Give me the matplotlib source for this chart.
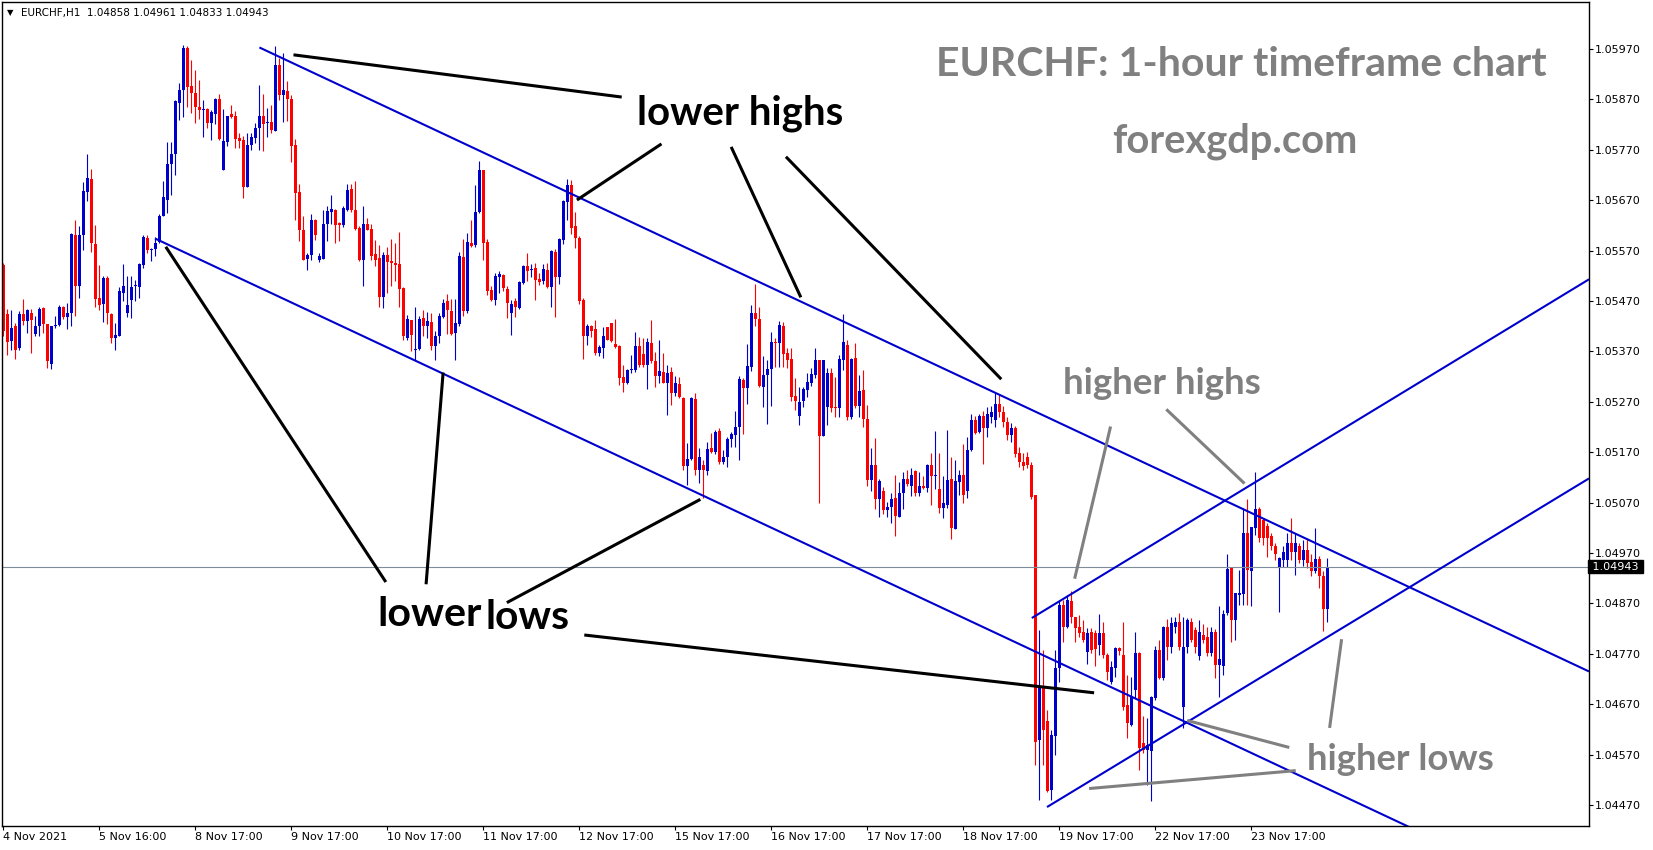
import numpy as np
import matplotlib
matplotlib.use("Agg")
import matplotlib.pyplot as plt

# EURCHF H1 candles, in points above 1.04000 (1 point = 0.00001)
opens = [
    1542, 1445, 1390, 1420, 1377, 1445, 1430, 1446, 1405, 1421, 1457, 1425,
    1345, 1420, 1422, 1458, 1439, 1446, 1601, 1499, 1600, 1687, 1712, 1584,
    1475, 1465, 1515, 1445, 1397, 1401, 1486, 1446, 1471, 1500, 1498, 1542,
    1595, 1572, 1573, 1588, 1638, 1671, 1742, 1762, 1863, 1888, 1972, 1896,
    1882, 1855, 1848, 1851, 1823, 1841, 1870, 1729, 1785, 1841, 1837, 1793,
    1790, 1697, 1779, 1793, 1813, 1837, 1823, 1825, 1808, 1939, 1878, 1887,
    1870, 1780, 1686, 1611, 1553, 1562, 1631, 1552, 1554, 1623, 1646, 1651,
    1624, 1620, 1651, 1693, 1650, 1615, 1552, 1623, 1613, 1564, 1556, 1477,
    1562, 1550, 1545, 1544, 1495, 1397, 1433, 1372, 1375, 1436, 1420, 1429,
    1381, 1401, 1438, 1469, 1451, 1406, 1425, 1558, 1451, 1585, 1581, 1646,
    1729, 1588, 1492, 1472, 1517, 1522, 1494, 1447, 1469, 1456, 1505, 1540,
    1531, 1535, 1513, 1509, 1532, 1497, 1568, 1518, 1591, 1667, 1700, 1618,
    1595, 1472, 1401, 1421, 1414, 1366, 1376, 1418, 1426, 1385, 1381, 1319,
    1307, 1333, 1333, 1380, 1365, 1343, 1386, 1350, 1321, 1330, 1308, 1330,
    1287, 1306, 1277, 1142, 1156, 1275, 1134, 1145, 1132, 1178, 1171, 1213,
    1150, 1160, 1196, 1204, 1220, 1314, 1297, 1340, 1446, 1434, 1300, 1323,
    1335, 1389, 1387, 1420, 1366, 1354, 1282, 1242, 1272, 1294, 1308, 1323,
    1353, 1202, 1260, 1328, 1260, 1257, 1353, 1383, 1239, 1356, 1262, 1293,
    1235, 1115, 1145, 1077, 1094, 1056, 1062, 1079, 1041, 1089, 1116, 1103,
    1132, 1090, 1102, 1099, 1145, 1122, 1097, 1059, 1065, 1116, 1017, 1110,
    1125, 1094, 1174, 1233, 1211, 1242, 1218, 1240, 1234, 1266, 1250, 1230,
    1205, 1218, 1168, 1150, 1160, 1145, 1085, 599, 705, 636, 500, 606,
    741, 867, 823, 874, 844, 824, 814, 773, 814, 811, 788, 811,
    768, 715, 741, 781, 768, 669, 629, 699, 771, 593, 580, 578,
    682, 777, 722, 824, 784, 823, 834, 665, 784, 834, 817, 765,
    808, 804, 771, 814, 748, 746, 851, 940, 837, 887, 889, 1010,
    935, 1019, 1057, 1036, 1024, 1003, 983, 943, 956, 956, 989, 973,
    983, 956, 975, 952, 935, 958, 925, 858]
highs = [
    1545, 1454, 1453, 1426, 1450, 1473, 1455, 1454, 1441, 1459, 1459, 1425,
    1421, 1441, 1462, 1461, 1466, 1605, 1631, 1618, 1707, 1762, 1732, 1621,
    1542, 1519, 1519, 1446, 1426, 1498, 1544, 1519, 1519, 1512, 1545, 1601,
    1601, 1575, 1597, 1642, 1709, 1786, 1786, 1869, 1902, 1978, 1975, 1948,
    1929, 1908, 1869, 1852, 1849, 1872, 1881, 1851, 1837, 1859, 1846, 1803,
    1798, 1803, 1803, 1823, 1899, 1881, 1853, 1859, 1976, 1952, 1962, 1907,
    1879, 1791, 1702, 1639, 1566, 1643, 1632, 1566, 1651, 1658, 1681, 1652,
    1626, 1658, 1703, 1703, 1709, 1618, 1658, 1634, 1623, 1591, 1582, 1568,
    1577, 1593, 1585, 1606, 1498, 1443, 1433, 1459, 1440, 1453, 1449, 1446,
    1410, 1446, 1473, 1484, 1473, 1473, 1568, 1593, 1605, 1630, 1701, 1747,
    1729, 1593, 1499, 1525, 1529, 1524, 1499, 1472, 1475, 1509, 1542, 1566,
    1544, 1545, 1525, 1544, 1545, 1571, 1573, 1595, 1671, 1712, 1710, 1647,
    1598, 1476, 1425, 1423, 1433, 1383, 1418, 1419, 1427, 1434, 1383, 1343,
    1335, 1363, 1409, 1398, 1396, 1396, 1432, 1368, 1392, 1366, 1343, 1340,
    1321, 1320, 1280, 1188, 1280, 1287, 1178, 1155, 1191, 1209, 1215, 1218,
    1175, 1200, 1211, 1251, 1322, 1317, 1385, 1462, 1504, 1459, 1361, 1353,
    1409, 1396, 1431, 1429, 1376, 1376, 1317, 1300, 1300, 1327, 1337, 1376,
    1353, 1353, 1337, 1338, 1320, 1363, 1444, 1393, 1356, 1387, 1323, 1333,
    1264, 1178, 1198, 1116, 1100, 1072, 1089, 1125, 1110, 1130, 1135, 1138,
    1134, 1130, 1123, 1147, 1169, 1213, 1168, 1122, 1214, 1161, 1155, 1135,
    1186, 1200, 1246, 1241, 1246, 1251, 1259, 1262, 1288, 1285, 1262, 1240,
    1228, 1222, 1180, 1168, 1170, 1150, 1085, 817, 778, 659, 619, 778,
    877, 877, 887, 894, 844, 847, 837, 821, 821, 818, 849, 834,
    771, 755, 784, 784, 834, 728, 725, 814, 773, 646, 642, 687,
    786, 798, 826, 839, 844, 844, 851, 843, 841, 841, 824, 837,
    829, 824, 824, 819, 864, 857, 969, 940, 890, 936, 1059, 1077,
    1022, 1131, 1061, 1037, 1029, 1009, 989, 963, 983, 1009, 1039, 1009,
    990, 995, 1000, 968, 1020, 965, 935, 961]
lows = [
    1400, 1363, 1372, 1354, 1372, 1423, 1406, 1367, 1400, 1400, 1406, 1338,
    1335, 1416, 1420, 1435, 1414, 1420, 1440, 1476, 1572, 1668, 1568, 1458,
    1453, 1428, 1424, 1387, 1373, 1400, 1469, 1438, 1436, 1469, 1476, 1535,
    1565, 1549, 1560, 1585, 1638, 1644, 1681, 1720, 1829, 1836, 1855, 1843,
    1823, 1831, 1796, 1813, 1790, 1822, 1790, 1729, 1777, 1833, 1773, 1773,
    1674, 1697, 1770, 1783, 1770, 1767, 1796, 1804, 1808, 1868, 1826, 1828,
    1745, 1631, 1590, 1551, 1532, 1552, 1591, 1548, 1554, 1590, 1623, 1586,
    1590, 1617, 1648, 1646, 1611, 1549, 1499, 1611, 1552, 1539, 1459, 1456,
    1486, 1499, 1509, 1458, 1393, 1392, 1370, 1353, 1373, 1400, 1396, 1372,
    1353, 1387, 1436, 1405, 1403, 1353, 1421, 1441, 1447, 1578, 1577, 1644,
    1552, 1482, 1469, 1462, 1486, 1489, 1436, 1403, 1438, 1454, 1504, 1509,
    1517, 1471, 1502, 1504, 1495, 1458, 1438, 1504, 1584, 1631, 1603, 1575,
    1464, 1355, 1383, 1399, 1363, 1361, 1357, 1392, 1388, 1376, 1304, 1290,
    1306, 1327, 1330, 1340, 1340, 1295, 1347, 1300, 1308, 1307, 1244, 1264,
    1282, 1277, 1135, 1105, 1155, 1125, 1109, 1079, 1125, 1168, 1167, 1147,
    1147, 1140, 1181, 1181, 1154, 1206, 1266, 1332, 1420, 1300, 1259, 1226,
    1262, 1340, 1340, 1340, 1338, 1272, 1253, 1224, 1260, 1279, 1302, 1317,
    1070, 1202, 1224, 1249, 1239, 1239, 1334, 1233, 1235, 1257, 1239, 1220,
    1103, 1094, 1057, 1041, 1048, 1041, 1030, 1004, 1041, 1057, 1102, 1083,
    1083, 1083, 1097, 1092, 1066, 1097, 1049, 1039, 1060, 997, 1017, 1085,
    1070, 1079, 1173, 1206, 1209, 1147, 1200, 1228, 1220, 1240, 1220, 1195,
    1190, 1160, 1140, 1135, 1138, 1078, 550, 480, 550, 495, 480, 570,
    715, 794, 821, 832, 794, 804, 794, 750, 771, 745, 768, 761,
    718, 710, 725, 768, 659, 603, 626, 682, 540, 573, 510, 478,
    679, 720, 718, 758, 771, 811, 778, 622, 771, 794, 771, 758,
    791, 765, 765, 722, 685, 728, 847, 794, 798, 867, 867, 867,
    864, 1006, 991, 986, 963, 976, 956, 852, 943, 943, 956, 926,
    950, 945, 940, 925, 930, 900, 815, 833]
closes = [
    1410, 1388, 1416, 1372, 1445, 1430, 1453, 1433, 1421, 1454, 1425, 1350,
    1421, 1423, 1459, 1438, 1446, 1603, 1499, 1601, 1689, 1714, 1585, 1474,
    1463, 1515, 1446, 1397, 1403, 1489, 1500, 1463, 1498, 1501, 1544, 1597,
    1572, 1574, 1585, 1638, 1677, 1742, 1762, 1866, 1889, 1972, 1894, 1882,
    1855, 1848, 1851, 1823, 1844, 1870, 1792, 1787, 1837, 1836, 1792, 1788,
    1697, 1780, 1796, 1814, 1837, 1822, 1825, 1810, 1939, 1879, 1889, 1870,
    1778, 1685, 1610, 1552, 1562, 1631, 1601, 1560, 1623, 1648, 1653, 1621,
    1620, 1654, 1691, 1650, 1613, 1552, 1623, 1611, 1560, 1552, 1477, 1562,
    1547, 1545, 1542, 1494, 1400, 1434, 1403, 1375, 1434, 1420, 1430, 1380,
    1401, 1441, 1467, 1453, 1405, 1426, 1560, 1451, 1588, 1580, 1646, 1729,
    1586, 1489, 1471, 1519, 1524, 1496, 1467, 1464, 1458, 1507, 1540, 1530,
    1533, 1512, 1508, 1533, 1497, 1570, 1518, 1593, 1669, 1700, 1614, 1594,
    1469, 1401, 1421, 1411, 1366, 1378, 1401, 1393, 1390, 1378, 1317, 1308,
    1333, 1336, 1380, 1343, 1343, 1388, 1350, 1321, 1332, 1308, 1327, 1287,
    1307, 1279, 1142, 1156, 1277, 1134, 1160, 1134, 1176, 1171, 1211, 1150,
    1160, 1196, 1206, 1221, 1315, 1297, 1341, 1446, 1434, 1301, 1323, 1335,
    1389, 1386, 1422, 1365, 1353, 1279, 1272, 1270, 1295, 1310, 1325, 1352,
    1202, 1352, 1328, 1257, 1257, 1354, 1389, 1239, 1354, 1262, 1292, 1235,
    1115, 1145, 1077, 1112, 1056, 1062, 1077, 1044, 1089, 1116, 1107, 1125,
    1090, 1102, 1099, 1145, 1123, 1124, 1059, 1070, 1115, 1019, 1112, 1125,
    1085, 1174, 1233, 1209, 1242, 1218, 1245, 1250, 1266, 1250, 1230, 1205,
    1218, 1166, 1150, 1142, 1145, 1082, 596, 705, 619, 497, 609, 741,
    867, 824, 877, 844, 821, 811, 798, 811, 778, 779, 811, 768,
    733, 743, 781, 775, 665, 632, 685, 771, 583, 580, 589, 685,
    777, 722, 824, 784, 831, 834, 784, 784, 837, 798, 784, 814,
    798, 771, 814, 748, 759, 849, 938, 837, 890, 890, 1009, 936,
    1021, 1057, 999, 999, 999, 983, 969, 960, 973, 989, 973, 989,
    956, 975, 950, 935, 958, 925, 858, 943]

date_labels = ["4 Nov 2021", "5 Nov 16:00", "8 Nov 17:00", "9 Nov 17:00",
               "10 Nov 17:00", "11 Nov 17:00", "12 Nov 17:00", "15 Nov 17:00",
               "16 Nov 17:00", "17 Nov 17:00", "18 Nov 17:00", "19 Nov 17:00",
               "22 Nov 17:00", "23 Nov 17:00"]
bars_per_label = 24
last_price = 1.04943
header = "EURCHF,H1  1.04858 1.04961 1.04833 1.04943"

# channel lines: (bar0, price0, bar1, price1)
channel_down_top = (64.1, 1.05973, 396.5, 1.04735)
channel_down_bot = (38.0, 1.05594, 396.5, 1.04259)
channel_up_top = (257.2, 1.04841, 396.5, 1.05513)
channel_up_bot = (261.0, 1.04466, 396.5, 1.05118)

# pointer lines from the labels
black_pointers = [
    (73.0, 1.05958, 154.3, 1.05875),
    (164.3, 1.05780, 143.8, 1.05672),
    (182.2, 1.05773, 199.3, 1.05480),
    (196.0, 1.05754, 249.3, 1.05317),
    (40.9, 1.05575, 95.5, 1.04915),
    (110.0, 1.05325, 105.8, 1.04911),
    (126.3, 1.04873, 174.0, 1.05075),
    (145.7, 1.04807, 272.4, 1.04693),
]
grey_pointers = [
    (276.8, 1.05218, 268.0, 1.04922),
    (291.1, 1.05253, 310.1, 1.05110),
    (296.4, 1.04637, 321.2, 1.04585),
    (271.9, 1.04503, 322.8, 1.04538),
    (334.6, 1.04796, 331.7, 1.04626),
]

W, H = 1653, 850
BLUE = "#0000cd"
RED = "#ff0000"
GREY = "#808080"

o = 1.04 + np.array(opens) * 1e-5
c = 1.04 + np.array(closes) * 1e-5
h = np.maximum(1.04 + np.array(highs) * 1e-5, np.maximum(o, c))
l = np.minimum(1.04 + np.array(lows) * 1e-5, np.minimum(o, c))
idx = np.arange(len(o))
cols = np.where(c >= o, BLUE, RED)

fig = plt.figure(figsize=(W / 100, H / 100), dpi=100)
ax = fig.add_axes([2 / W, 24 / H, 1587 / W, 824 / H])

ax.vlines(idx, l, h, colors=cols, lw=0.8)
ax.bar(idx, np.maximum(np.abs(c - o), 1.4e-5), bottom=np.minimum(o, c),
       width=0.75, color=cols, linewidth=0)

ax.axhline(last_price, color="#7f8c9a", lw=0.8)

for x0, y0, x1, y1 in [channel_down_top, channel_down_bot, channel_up_top, channel_up_bot]:
    ax.plot([x0, x1], [y0, y1], color=BLUE, lw=1.5, solid_capstyle="butt")
for x0, y0, x1, y1 in black_pointers:
    ax.plot([x0, x1], [y0, y1], color="black", lw=2.2)
for x0, y0, x1, y1 in grey_pointers:
    ax.plot([x0, x1], [y0, y1], color=GREY, lw=2.2)

ax.set_xlim(-0.25, 396.5)
ax.set_ylim(1.044284, 1.060632)

ax.yaxis.tick_right()
yt = np.arange(1.04470, 1.05975, 0.001)
ax.set_yticks(yt)
ax.set_yticklabels(["%.5f" % v for v in yt])
ax.set_xticks(np.arange(len(date_labels)) * bars_per_label)
ax.set_xticklabels(date_labels)
for lab in ax.get_xticklabels():
    lab.set_ha("left")
ax.tick_params(axis="both", direction="out", length=3, width=0.8,
               labelsize=8, pad=1.5, colors="black")
for sp in ax.spines.values():
    sp.set_linewidth(1.0)

ax.text(1.0, last_price, " 1.04943 ", transform=ax.get_yaxis_transform(),
        ha="left", va="center", color="white", fontsize=8,
        bbox=dict(fc="black", ec="black", pad=1.0), clip_on=False)

fig.text(7 / W, 1 - 13 / H, "\u25bc", fontsize=6, va="center", ha="left")
fig.text(21 / W, 1 - 13 / H, header, fontsize=7.5, va="center", ha="left")

fig.canvas.draw()
rend = fig.canvas.get_renderer()


def label(s, x_left, x_right, base, color):
    t = fig.text((x_left + x_right) / 2 / W, 1 - base / H, s, ha="center",
                 va="baseline", fontsize=30, fontweight="bold",
                 family=["Lato", "DejaVu Sans"], color=color)
    w = t.get_window_extent(renderer=rend).width
    t.set_fontsize(30 * (x_right - x_left) / w)


label("EURCHF: 1-hour timeframe chart", 936, 1546, 76, GREY)
label("forexgdp.com", 1112, 1357, 153, GREY)
label("lower highs", 637, 843, 124, "black")
label("lower", 378, 482, 626, "black")
label("lows", 486, 570, 629, "black")
label("higher highs", 1063, 1261, 394, GREY)
label("higher lows", 1307, 1494, 770, GREY)

fig.savefig("out.png", dpi=100)
